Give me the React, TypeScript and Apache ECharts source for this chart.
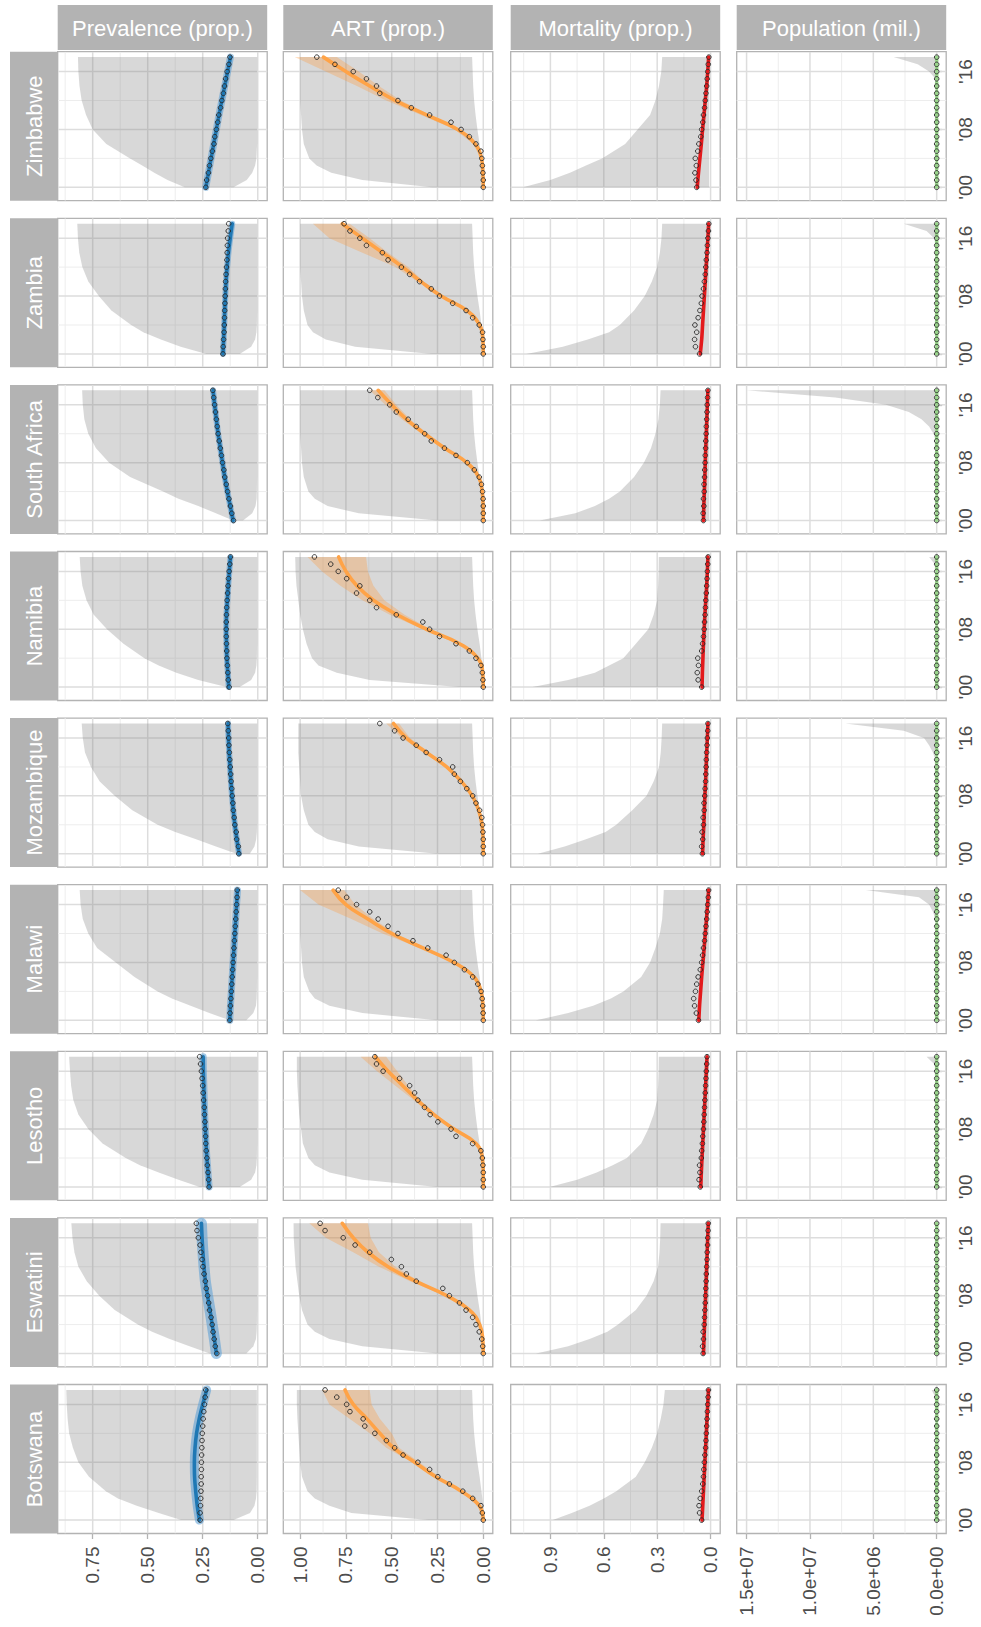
import React, { useEffect, useRef } from "react";
import * as echarts from "echarts";

// ---------------- data ----------------
const countries = ["Botswana", "Eswatini", "Lesotho", "Malawi", "Mozambique", "Namibia", "South Africa", "Zambia", "Zimbabwe"];
const measures = ["Prevalence (prop.)", "ART (prop.)", "Mortality (prop.)", "Population (mil.)"];
const years = [2000, 2001, 2002, 2003, 2004, 2005, 2006, 2007, 2008, 2009, 2010, 2011, 2012, 2013, 2014, 2015, 2016, 2017, 2018];
const fitYears = [2000, 2002, 2004, 2006, 2008, 2010, 2012, 2014, 2016, 2018];
const priorYears = [2000, 2001, 2002, 2003, 2004, 2006, 2008, 2010, 2012, 2014, 2016, 2018];

const valueTicks = [[0, 0.25, 0.5, 0.75], [0, 0.25, 0.5, 0.75, 1], [0, 0.3, 0.6, 0.9], [0, 5e6, 1e7, 1.5e7]];
const valueMinorTicks = [[0.125, 0.375, 0.625, 0.875], [0.125, 0.375, 0.625, 0.875], [0.15, 0.45, 0.75, 1.05], [2.5e6, 7.5e6, 1.25e7]];
const yearTicks = [2000, 2008, 2016];
const yearMinorTicks = [2004, 2012];

// prevalence
const prevalenceObserved = [
  [0.262, 0.262, 0.260, 0.259, 0.258, 0.257, 0.257, 0.256, 0.256, 0.255, 0.254, 0.253, 0.252, 0.250, 0.248, 0.245, 0.242, 0.239, 0.236],
  [0.186, 0.193, 0.198, 0.203, 0.207, 0.212, 0.219, 0.223, 0.228, 0.234, 0.238, 0.244, 0.249, 0.253, 0.258, 0.262, 0.270, 0.276, 0.279],
  [0.221, 0.223, 0.226, 0.229, 0.231, 0.234, 0.236, 0.237, 0.239, 0.240, 0.242, 0.243, 0.246, 0.248, 0.250, 0.253, 0.256, 0.260, 0.264],
  [0.127, 0.126, 0.124, 0.122, 0.120, 0.118, 0.116, 0.114, 0.112, 0.110, 0.108, 0.106, 0.104, 0.102, 0.100, 0.098, 0.096, 0.094, 0.093],
  [0.086, 0.088, 0.096, 0.098, 0.104, 0.107, 0.111, 0.113, 0.116, 0.118, 0.121, 0.123, 0.125, 0.127, 0.129, 0.131, 0.132, 0.134, 0.136],
  [0.130, 0.134, 0.136, 0.138, 0.140, 0.141, 0.142, 0.143, 0.143, 0.143, 0.142, 0.141, 0.139, 0.137, 0.135, 0.133, 0.130, 0.127, 0.124],
  [0.110, 0.118, 0.124, 0.131, 0.137, 0.143, 0.150, 0.154, 0.160, 0.165, 0.170, 0.175, 0.180, 0.184, 0.188, 0.192, 0.196, 0.200, 0.204],
  [0.158, 0.157, 0.155, 0.153, 0.152, 0.151, 0.150, 0.149, 0.148, 0.147, 0.146, 0.144, 0.142, 0.140, 0.139, 0.138, 0.137, 0.134, 0.132],
  [0.236, 0.232, 0.224, 0.219, 0.213, 0.206, 0.199, 0.195, 0.188, 0.182, 0.177, 0.169, 0.163, 0.156, 0.151, 0.146, 0.139, 0.131, 0.126],
];
const prevalenceFitted = [
  [0.265, 0.275, 0.282, 0.287, 0.288, 0.285, 0.278, 0.266, 0.250, 0.232],
  [0.188, 0.197, 0.207, 0.217, 0.228, 0.238, 0.244, 0.249, 0.253, 0.256],
  [0.221, 0.226, 0.231, 0.235, 0.238, 0.241, 0.243, 0.245, 0.247, 0.248],
  [0.127, 0.124, 0.120, 0.116, 0.112, 0.108, 0.104, 0.100, 0.096, 0.092],
  [0.085, 0.095, 0.104, 0.111, 0.117, 0.122, 0.126, 0.130, 0.133, 0.135],
  [0.132, 0.136, 0.140, 0.142, 0.143, 0.142, 0.138, 0.134, 0.129, 0.124],
  [0.112, 0.125, 0.138, 0.150, 0.160, 0.170, 0.180, 0.188, 0.196, 0.203],
  [0.158, 0.155, 0.152, 0.150, 0.147, 0.144, 0.139, 0.133, 0.125, 0.116],
  [0.236, 0.224, 0.212, 0.200, 0.188, 0.176, 0.163, 0.150, 0.137, 0.124],
];
const prevalencePriorLow = [
  [0.110, 0.035, 0.015, 0.008, 0.005, 0.004, 0.004, 0.004, 0.004, 0.004, 0.004, 0.004],
  [0.052, 0.020, 0.008, 0.005, 0.004, 0.003, 0.003, 0.003, 0.003, 0.003, 0.003, 0.003],
  [0.082, 0.030, 0.012, 0.006, 0.004, 0.003, 0.003, 0.003, 0.003, 0.003, 0.003, 0.003],
  [0.052, 0.020, 0.008, 0.005, 0.004, 0.003, 0.003, 0.003, 0.003, 0.003, 0.003, 0.003],
  [0.036, 0.015, 0.007, 0.004, 0.003, 0.003, 0.003, 0.003, 0.003, 0.003, 0.003, 0.003],
  [0.082, 0.030, 0.012, 0.006, 0.004, 0.003, 0.003, 0.003, 0.003, 0.003, 0.003, 0.003],
  [0.067, 0.025, 0.010, 0.005, 0.004, 0.003, 0.003, 0.003, 0.003, 0.003, 0.003, 0.003],
  [0.082, 0.030, 0.012, 0.006, 0.004, 0.003, 0.003, 0.003, 0.003, 0.003, 0.003, 0.003],
  [0.110, 0.050, 0.025, 0.012, 0.006, 0.003, 0.003, 0.003, 0.003, 0.003, 0.003, 0.003],
];
const prevalencePriorHigh = [
  [0.348, 0.450, 0.550, 0.635, 0.690, 0.767, 0.815, 0.840, 0.857, 0.864, 0.868, 0.870],
  [0.218, 0.310, 0.400, 0.480, 0.545, 0.650, 0.720, 0.777, 0.815, 0.833, 0.842, 0.847],
  [0.264, 0.360, 0.450, 0.535, 0.600, 0.705, 0.770, 0.815, 0.838, 0.848, 0.853, 0.857],
  [0.127, 0.220, 0.305, 0.390, 0.455, 0.560, 0.645, 0.730, 0.770, 0.795, 0.805, 0.809],
  [0.097, 0.190, 0.280, 0.375, 0.455, 0.570, 0.650, 0.718, 0.758, 0.785, 0.795, 0.800],
  [0.142, 0.270, 0.370, 0.450, 0.515, 0.610, 0.685, 0.745, 0.778, 0.797, 0.805, 0.809],
  [0.112, 0.190, 0.270, 0.360, 0.430, 0.580, 0.675, 0.735, 0.770, 0.788, 0.795, 0.798],
  [0.233, 0.350, 0.440, 0.520, 0.575, 0.665, 0.722, 0.770, 0.797, 0.811, 0.817, 0.820],
  [0.332, 0.410, 0.470, 0.525, 0.580, 0.688, 0.750, 0.780, 0.800, 0.810, 0.815, 0.817],
];

// ART
const artObserved = [
  [0, 0.005, 0.013, 0.058, 0.112, 0.185, 0.248, 0.293, 0.357, 0.438, 0.484, 0.529, 0.592, 0.647, 0.656, 0.728, 0.746, 0.800, 0.864],
  [0, 0.003, 0.008, 0.022, 0.040, 0.058, 0.094, 0.130, 0.185, 0.221, 0.366, 0.420, 0.447, 0.502, 0.620, 0.700, 0.765, 0.864, 0.891],
  [0, 0, 0, 0.002, 0.005, 0.013, 0.058, 0.149, 0.176, 0.248, 0.290, 0.321, 0.357, 0.375, 0.402, 0.457, 0.547, 0.583, 0.592],
  [0, 0.001, 0.003, 0.006, 0.012, 0.030, 0.058, 0.103, 0.158, 0.203, 0.303, 0.384, 0.466, 0.520, 0.574, 0.620, 0.692, 0.746, 0.792],
  [0, 0, 0, 0.002, 0.004, 0.008, 0.020, 0.040, 0.058, 0.090, 0.125, 0.158, 0.167, 0.239, 0.312, 0.366, 0.438, 0.484, 0.565],
  [0, 0.002, 0.005, 0.013, 0.040, 0.076, 0.149, 0.239, 0.293, 0.330, 0.475, 0.583, 0.620, 0.692, 0.674, 0.746, 0.792, 0.833, 0.922],
  [0, 0, 0, 0.001, 0.004, 0.010, 0.022, 0.049, 0.087, 0.149, 0.212, 0.284, 0.320, 0.366, 0.410, 0.475, 0.511, 0.576, 0.620],
  [0, 0, 0.002, 0.004, 0.022, 0.058, 0.094, 0.167, 0.239, 0.284, 0.348, 0.402, 0.447, 0.520, 0.551, 0.638, 0.674, 0.728, 0.760],
  [0, 0, 0.002, 0.005, 0.008, 0.013, 0.040, 0.076, 0.121, 0.176, 0.293, 0.393, 0.466, 0.565, 0.583, 0.638, 0.710, 0.810, 0.909],
];
const artFitted = [
  [0, 0.022, 0.120, 0.260, 0.375, 0.490, 0.565, 0.635, 0.710, 0.755],
  [0, 0.003, 0.020, 0.075, 0.200, 0.370, 0.520, 0.630, 0.710, 0.770],
  [0, 0, 0.005, 0.040, 0.160, 0.270, 0.360, 0.440, 0.520, 0.590],
  [0, 0.002, 0.012, 0.050, 0.160, 0.330, 0.500, 0.630, 0.750, 0.820],
  [0, 0.001, 0.007, 0.025, 0.060, 0.120, 0.200, 0.310, 0.420, 0.490],
  [0, 0.003, 0.030, 0.130, 0.310, 0.470, 0.600, 0.690, 0.750, 0.790],
  [0, 0.001, 0.006, 0.025, 0.090, 0.210, 0.320, 0.420, 0.500, 0.574],
  [0, 0.002, 0.020, 0.090, 0.230, 0.340, 0.440, 0.550, 0.660, 0.770],
  [0, 0.002, 0.010, 0.045, 0.140, 0.310, 0.480, 0.620, 0.750, 0.873],
];
const artBandLow = [
  [0, 0.015, 0.110, 0.240, 0.350, 0.460, 0.500, 0.565, 0.610, 0.620],
  [0, 0.002, 0.016, 0.068, 0.190, 0.350, 0.480, 0.570, 0.615, 0.630],
  [0, 0, 0.003, 0.034, 0.150, 0.255, 0.345, 0.410, 0.470, 0.530],
  [0, 0.001, 0.009, 0.044, 0.150, 0.315, 0.480, 0.600, 0.700, 0.760],
  [0, 0, 0.005, 0.020, 0.054, 0.112, 0.190, 0.295, 0.400, 0.460],
  [0, 0.002, 0.025, 0.120, 0.290, 0.430, 0.540, 0.600, 0.630, 0.640],
  [0, 0, 0.004, 0.020, 0.082, 0.200, 0.305, 0.400, 0.475, 0.540],
  [0, 0.001, 0.016, 0.082, 0.215, 0.325, 0.410, 0.520, 0.620, 0.730],
  [0, 0.001, 0.007, 0.038, 0.125, 0.290, 0.450, 0.570, 0.680, 0.800],
];
const artBandHigh = [
  [0.003, 0.030, 0.130, 0.270, 0.390, 0.530, 0.620, 0.730, 0.840, 0.880],
  [0.001, 0.004, 0.024, 0.082, 0.210, 0.400, 0.570, 0.710, 0.860, 0.950],
  [0.001, 0.001, 0.007, 0.046, 0.170, 0.285, 0.380, 0.480, 0.580, 0.670],
  [0.001, 0.003, 0.015, 0.056, 0.170, 0.345, 0.550, 0.720, 0.900, 1.000],
  [0.001, 0.002, 0.009, 0.030, 0.066, 0.128, 0.210, 0.325, 0.445, 0.530],
  [0.001, 0.005, 0.035, 0.140, 0.330, 0.510, 0.660, 0.780, 0.880, 0.960],
  [0.001, 0.002, 0.008, 0.030, 0.098, 0.220, 0.335, 0.445, 0.535, 0.620],
  [0.001, 0.004, 0.025, 0.098, 0.245, 0.360, 0.480, 0.660, 0.840, 0.930],
  [0.001, 0.004, 0.014, 0.055, 0.155, 0.340, 0.530, 0.690, 0.860, 1.030],
];
const artPriorLow = [0, 0.001, 0.002, 0.005, 0.010, 0.020, 0.032, 0.042, 0.050, 0.055, 0.058, 0.061];
const artPriorHigh = [
  [0.30, 0.72, 0.84, 0.92, 0.96, 0.99, 1.000, 1.005, 1.010, 1.015, 1.018, 1.018],
  [0.25, 0.66, 0.84, 0.92, 0.96, 0.99, 1.005, 1.015, 1.025, 1.030, 1.035, 1.036],
  [0.25, 0.66, 0.84, 0.92, 0.955, 0.985, 0.995, 1.005, 1.010, 1.015, 1.018, 1.018],
  [0.25, 0.66, 0.84, 0.92, 0.95, 0.98, 0.990, 0.995, 1.000, 1.000, 1.000, 1.000],
  [0.25, 0.68, 0.85, 0.92, 0.955, 0.98, 0.995, 1.000, 1.005, 1.010, 1.010, 1.010],
  [0.13, 0.62, 0.80, 0.90, 0.935, 0.965, 0.985, 1.000, 1.010, 1.020, 1.025, 1.027],
  [0.25, 0.68, 0.85, 0.92, 0.955, 0.98, 0.990, 0.995, 1.000, 1.000, 1.000, 1.000],
  [0.28, 0.70, 0.86, 0.93, 0.96, 0.98, 0.990, 0.995, 1.000, 1.000, 1.000, 1.000],
  [0.28, 0.66, 0.83, 0.91, 0.95, 0.98, 0.990, 0.995, 1.000, 1.000, 1.000, 1.000],
];

// mortality
const mortalityObserved = [
  [0.050, 0.062, 0.065, 0.058, 0.050, 0.044, 0.040, 0.038, 0.035, 0.032, 0.028, 0.026, 0.024, 0.022, 0.020, 0.018, 0.016, 0.014, 0.012],
  [0.042, 0.045, 0.040, 0.042, 0.036, 0.034, 0.032, 0.030, 0.028, 0.027, 0.025, 0.024, 0.022, 0.020, 0.019, 0.017, 0.016, 0.014, 0.013],
  [0.058, 0.065, 0.060, 0.062, 0.052, 0.050, 0.046, 0.044, 0.040, 0.038, 0.036, 0.034, 0.032, 0.030, 0.028, 0.026, 0.024, 0.022, 0.020],
  [0.068, 0.080, 0.090, 0.095, 0.085, 0.078, 0.070, 0.058, 0.050, 0.045, 0.040, 0.034, 0.030, 0.026, 0.022, 0.019, 0.016, 0.013, 0.011],
  [0.046, 0.050, 0.044, 0.048, 0.040, 0.042, 0.036, 0.037, 0.033, 0.031, 0.028, 0.027, 0.025, 0.024, 0.022, 0.020, 0.018, 0.016, 0.015],
  [0.050, 0.070, 0.075, 0.068, 0.072, 0.050, 0.045, 0.040, 0.036, 0.034, 0.031, 0.029, 0.027, 0.024, 0.022, 0.020, 0.018, 0.016, 0.014],
  [0.040, 0.042, 0.038, 0.040, 0.036, 0.037, 0.034, 0.033, 0.031, 0.030, 0.028, 0.027, 0.025, 0.024, 0.022, 0.020, 0.019, 0.017, 0.015],
  [0.062, 0.085, 0.090, 0.078, 0.088, 0.070, 0.060, 0.052, 0.048, 0.040, 0.035, 0.030, 0.027, 0.024, 0.020, 0.018, 0.015, 0.012, 0.010],
  [0.078, 0.082, 0.088, 0.080, 0.086, 0.072, 0.066, 0.055, 0.050, 0.044, 0.040, 0.034, 0.030, 0.026, 0.022, 0.019, 0.016, 0.013, 0.010],
];
const mortalityFitted = [
  [0.048, 0.044, 0.040, 0.036, 0.032, 0.028, 0.024, 0.020, 0.016, 0.012],
  [0.040, 0.037, 0.034, 0.031, 0.028, 0.025, 0.022, 0.019, 0.016, 0.013],
  [0.055, 0.052, 0.048, 0.044, 0.040, 0.036, 0.032, 0.028, 0.024, 0.020],
  [0.066, 0.062, 0.056, 0.050, 0.043, 0.036, 0.030, 0.023, 0.017, 0.011],
  [0.045, 0.042, 0.038, 0.035, 0.032, 0.028, 0.025, 0.022, 0.018, 0.015],
  [0.048, 0.046, 0.043, 0.040, 0.036, 0.032, 0.027, 0.022, 0.018, 0.015],
  [0.040, 0.038, 0.035, 0.032, 0.030, 0.027, 0.024, 0.021, 0.018, 0.015],
  [0.058, 0.050, 0.045, 0.040, 0.035, 0.030, 0.025, 0.020, 0.015, 0.011],
  [0.075, 0.068, 0.060, 0.052, 0.045, 0.037, 0.030, 0.022, 0.016, 0.011],
];
const mortalityPriorLow = [0.008, 0.008, 0.008, 0.008, 0.008, 0.008, 0.008, 0.008, 0.008, 0.008, 0.008, 0.008];
const mortalityPriorHigh = [
  [0.887, 0.78, 0.68, 0.60, 0.53, 0.42, 0.37, 0.33, 0.30, 0.280, 0.265, 0.257],
  [0.980, 0.80, 0.68, 0.58, 0.52, 0.42, 0.36, 0.32, 0.295, 0.287, 0.283, 0.281],
  [0.905, 0.75, 0.64, 0.55, 0.47, 0.39, 0.35, 0.32, 0.30, 0.295, 0.292, 0.291],
  [0.980, 0.80, 0.66, 0.56, 0.49, 0.39, 0.34, 0.31, 0.285, 0.272, 0.267, 0.263],
  [0.970, 0.82, 0.70, 0.59, 0.53, 0.44, 0.36, 0.32, 0.29, 0.280, 0.275, 0.272],
  [1.000, 0.80, 0.65, 0.57, 0.49, 0.42, 0.35, 0.32, 0.30, 0.295, 0.292, 0.291],
  [0.960, 0.76, 0.65, 0.57, 0.51, 0.43, 0.375, 0.335, 0.31, 0.293, 0.285, 0.281],
  [1.035, 0.83, 0.69, 0.57, 0.51, 0.43, 0.37, 0.33, 0.30, 0.285, 0.276, 0.272],
  [1.054, 0.90, 0.79, 0.70, 0.61, 0.48, 0.41, 0.34, 0.31, 0.290, 0.277, 0.272],
];

// population (millions)
const populationObserved = [
  [1.73, 1.76, 1.79, 1.82, 1.85, 1.88, 1.91, 1.94, 1.97, 2.00, 2.03, 2.06, 2.09, 2.12, 2.15, 2.18, 2.21, 2.24, 2.25],
  [1.06, 1.06, 1.07, 1.07, 1.07, 1.07, 1.08, 1.08, 1.08, 1.09, 1.09, 1.10, 1.10, 1.11, 1.11, 1.12, 1.12, 1.13, 1.14],
  [1.99, 1.99, 1.99, 1.99, 1.99, 1.99, 2.00, 2.00, 2.01, 2.01, 2.02, 2.03, 2.04, 2.05, 2.07, 2.08, 2.09, 2.10, 2.11],
  [11.2, 11.5, 11.8, 12.1, 12.5, 12.8, 13.2, 13.6, 14.0, 14.4, 14.8, 15.2, 15.6, 16.0, 16.4, 16.8, 17.2, 17.7, 18.1],
  [17.7, 18.2, 18.7, 19.2, 19.7, 20.3, 20.9, 21.5, 22.1, 22.8, 23.5, 24.2, 24.9, 25.7, 26.4, 27.2, 28.0, 28.8, 29.5],
  [1.79, 1.82, 1.84, 1.86, 1.88, 1.90, 1.92, 1.95, 1.97, 2.00, 2.03, 2.06, 2.10, 2.14, 2.18, 2.22, 2.27, 2.31, 2.35],
  [45.0, 45.6, 46.2, 46.7, 47.2, 47.6, 48.1, 48.6, 49.1, 49.7, 50.3, 51.0, 51.8, 52.6, 53.4, 54.2, 55.0, 55.9, 56.8],
  [10.4, 10.7, 11.0, 11.3, 11.6, 11.9, 12.3, 12.7, 13.1, 13.5, 13.9, 14.3, 14.7, 15.2, 15.6, 16.1, 16.6, 17.1, 17.6],
  [11.9, 11.9, 12.0, 12.0, 12.0, 12.1, 12.2, 12.3, 12.4, 12.5, 12.7, 12.9, 13.1, 13.4, 13.6, 13.8, 14.0, 14.2, 14.4],
];
const populationPriorLow = [0, 0, 0, 0, 0, 0, 0, 0, 0, 0, 0, 0, 0, 0, 0, 0, 0, 0, 0];
const populationPriorHigh = [
  [0, 0, 0, 0, 0, 0, 0, 0, 0, 0, 0, 0, 0, 0, 0, 0, 0, 1e5, 4e5],
  [0, 0, 0, 0, 0, 0, 0, 0, 0, 0, 0, 0, 0, 0, 0, 0, 0, 0, 1e5],
  [0, 0, 0, 0, 0, 0, 0, 0, 0, 0, 0, 0, 0, 0, 0, 0, 0, 2e5, 8e5],
  [0, 0, 0, 0, 0, 0, 0, 0, 0, 0, 0, 0, 0, 0, 1e5, 3e5, 6e5, 1.4e6, 5.6e6],
  [0, 0, 0, 0, 0, 0, 0, 0, 0, 0, 0, 0, 0, 1e5, 3e5, 6e5, 1.0e6, 2.6e6, 7.2e6],
  [0, 0, 0, 0, 0, 0, 0, 0, 0, 0, 0, 0, 0, 0, 0, 0, 0, 1.5e5, 6e5],
  [0, 0, 0, 0, 0, 0, 0, 0, 0, 0, 0, 5e4, 2.5e5, 6e5, 1.2e6, 2.2e6, 4.0e6, 8.0e6, 1.5e7],
  [0, 0, 0, 0, 0, 0, 0, 0, 0, 0, 0, 0, 0, 0, 2e4, 5e4, 2e5, 8e5, 2.6e6],
  [0, 0, 0, 0, 0, 0, 0, 0, 0, 0, 0, 0, 0, 0, 0, 1e5, 6e5, 1.5e6, 3.4e6],
];

// ---------------- layout & style ----------------
const FONT = "'Liberation Sans', Arial, Helvetica, sans-serif";
const COL_LEFT = [57.7, 283.3, 510.7, 736.7];
const PANEL_W = 209.5;
const ROW_TOP = 51.7;
const ROW_PITCH = 166.6;
const PANEL_H = 149;
const VALUE_RANGE = [[-0.043, 0.909], [-0.052, 1.092], [-0.054, 1.123], [-7.5e5, 1.578e7]];
const YEAR_RANGE = [1998.15, 2018.75];
const STRIP = "#B3B3B3";
const PRIOR_FILL = "rgba(127,127,127,0.30)";
const PREV_BAND_WIDTH = [9, 11, 7, 7, 6, 6, 6, 6, 7];

function fmtValue(c: number, v: number): string {
  if (c === 0 || c === 1) return v.toFixed(2);
  if (c === 2) return v.toFixed(1);
  const s = v.toExponential(1);
  const [m, e] = s.split("e");
  const sign = e[0] === "-" ? "-" : "+";
  const digits = e.replace(/[+-]/, "").padStart(2, "0");
  return m + "e" + sign + digits;
}

function pairs(vals: number[], ys: number[]) {
  return ys.map((y, k) => [vals[k], y]);
}

function ribbonPoints(lo: number[], hi: number[], ys: number[]) {
  const up = ys.map((y, k) => [hi[k], y]);
  const dn = ys.map((y, k) => [lo[k], y]).reverse();
  return up.concat(dn);
}

function polygonSeries(g: number, pts: number[][], fill: string, z: number) {
  return {
    type: "custom",
    xAxisIndex: g,
    yAxisIndex: g,
    z,
    silent: true,
    clip: true,
    encode: { x: 0, y: 1 },
    data: [[pts[0][0], pts[0][1]]],
    renderItem: (_p: any, api: any) => ({
      type: "polygon",
      shape: { points: pts.map((p) => api.coord(p)) },
      style: { fill },
    }),
  };
}

function gridLineSeries(g: number, c: number) {
  return {
    type: "custom",
    xAxisIndex: g,
    yAxisIndex: g,
    z: 1,
    silent: true,
    clip: true,
    encode: { x: 0, y: 1 },
    data: [[0, 2008]],
    renderItem: (_p: any, api: any) => {
      const children: any[] = [];
      const [x0, x1] = VALUE_RANGE[c];
      const [y0, y1] = YEAR_RANGE;
      const seg = (a: number[], b: number[], major: boolean) => ({
        type: "line",
        shape: { x1: a[0], y1: a[1], x2: b[0], y2: b[1] },
        style: { stroke: major ? "#DDDDDD" : "#EDEDED", lineWidth: major ? 1.5 : 1.0 },
      });
      valueMinorTicks[c].forEach((v) => children.push(seg(api.coord([v, y0]), api.coord([v, y1]), false)));
      yearMinorTicks.forEach((y) => children.push(seg(api.coord([x0, y]), api.coord([x1, y]), false)));
      valueTicks[c].forEach((v) => children.push(seg(api.coord([v, y0]), api.coord([v, y1]), true)));
      yearTicks.forEach((y) => children.push(seg(api.coord([x0, y]), api.coord([x1, y]), true)));
      return { type: "group", children };
    },
  };
}

function lineSeries(g: number, data: number[][], color: string, width: number, z: number, dashed = false, smooth: number = 0.3) {
  return {
    type: "line",
    xAxisIndex: g,
    yAxisIndex: g,
    data,
    z,
    silent: true,
    showSymbol: false,
    symbol: "none",
    smooth,
    clip: true,
    lineStyle: { color, width, type: dashed ? [6, 3] : "solid", cap: "round" },
  };
}

function pointSeries(g: number, data: number[][]) {
  return {
    type: "scatter",
    xAxisIndex: g,
    yAxisIndex: g,
    data,
    z: 6,
    silent: true,
    symbol: "circle",
    symbolSize: 4.6,
    itemStyle: { color: "rgba(0,0,0,0)", borderColor: "#262626", borderWidth: 0.9, opacity: 1 },
  };
}

function buildOption() {
  const grid: any[] = [];
  const xAxis: any[] = [];
  const yAxis: any[] = [];
  const series: any[] = [];
  const elements: any[] = [];

  countries.forEach((name, i) => {
    const row = 8 - i;
    const top = ROW_TOP + row * ROW_PITCH;
    for (let c = 0; c < 4; c++) {
      const g = grid.length;
      const isBottom = row === 8;
      const isRight = c === 3;
      grid.push({
        left: COL_LEFT[c], top, width: PANEL_W, height: PANEL_H,
        show: true, backgroundColor: "#FFFFFF", borderColor: STRIP, borderWidth: 1.3,
      });
      xAxis.push({
        type: "value", gridIndex: g, min: VALUE_RANGE[c][0], max: VALUE_RANGE[c][1], inverse: true,
        axisLine: { show: false }, splitLine: { show: false }, minorSplitLine: { show: false },
        axisTick: { show: isBottom, customValues: valueTicks[c], length: 5.5, lineStyle: { color: STRIP, width: 1.3 } },
        axisLabel: {
          show: isBottom, customValues: valueTicks[c], rotate: 90, margin: 13,
          fontSize: 19, color: "#4D4D4D", fontFamily: FONT,
          formatter: (v: number) => fmtValue(c, v),
        },
      });
      yAxis.push({
        type: "value", gridIndex: g, min: YEAR_RANGE[0], max: YEAR_RANGE[1], position: "right",
        axisLine: { show: false }, splitLine: { show: false }, minorSplitLine: { show: false },
        axisTick: { show: isRight, customValues: yearTicks, length: 5.5, lineStyle: { color: STRIP, width: 1.3 } },
        axisLabel: {
          show: isRight, customValues: yearTicks, rotate: 90, margin: 10,
          fontSize: 19, color: "#4D4D4D", fontFamily: FONT,
          formatter: (v: number) => "'" + String(Math.round(v)).slice(2),
        },
      });

      series.push(gridLineSeries(g, c));
      if (c === 0) {
        series.push(polygonSeries(g, ribbonPoints(prevalencePriorLow[i], prevalencePriorHigh[i], priorYears), PRIOR_FILL, 2));
        series.push(lineSeries(g, pairs(prevalenceFitted[i], fitYears), "rgba(86,156,214,0.55)", PREV_BAND_WIDTH[i], 3));
        series.push(lineSeries(g, pairs(prevalenceFitted[i], fitYears), "#1F78B4", 3.6, 4));
        series.push(pointSeries(g, pairs(prevalenceObserved[i], years)));
      } else if (c === 1) {
        series.push(polygonSeries(g, ribbonPoints(artPriorLow, artPriorHigh[i], priorYears), PRIOR_FILL, 2));
        series.push(polygonSeries(g, ribbonPoints(artBandLow[i], artBandHigh[i], fitYears), "rgba(255,150,50,0.30)", 3));
        series.push(lineSeries(g, pairs(artFitted[i], fitYears), "#FFA347", 3.6, 4, false, 0.45));
        series.push(pointSeries(g, pairs(artObserved[i], years)));
      } else if (c === 2) {
        series.push(polygonSeries(g, ribbonPoints(mortalityPriorLow, mortalityPriorHigh[i], priorYears), PRIOR_FILL, 2));
        series.push(lineSeries(g, pairs(mortalityFitted[i], fitYears), "#E31A1C", 3.6, 4));
        series.push(pointSeries(g, pairs(mortalityObserved[i], years)));
      } else {
        series.push(polygonSeries(g, ribbonPoints(populationPriorLow, populationPriorHigh[i], years), PRIOR_FILL, 2));
        series.push(lineSeries(g, pairs(populationObserved[i], years), "#9AD68C", 3.6, 4, true, 0));
        series.push(pointSeries(g, pairs(populationObserved[i], years)));
      }
    }
    // country strip (left)
    elements.push({ type: "rect", shape: { x: 10, y: top, width: 48, height: PANEL_H }, style: { fill: STRIP }, z: 10 });
    elements.push({
      type: "text", x: 34, y: top + PANEL_H / 2, rotation: Math.PI / 2, z: 11,
      style: { text: name, fill: "#FFFFFF", fontSize: 22, fontFamily: FONT, align: "center", verticalAlign: "middle" },
    });
  });

  measures.forEach((m, c) => {
    elements.push({ type: "rect", shape: { x: COL_LEFT[c], y: 5, width: PANEL_W, height: 45 }, style: { fill: STRIP }, z: 10 });
    elements.push({
      type: "text", x: COL_LEFT[c] + PANEL_W / 2, y: 28, z: 11,
      style: { text: m, fill: "#FFFFFF", fontSize: 22, fontFamily: FONT, align: "center", verticalAlign: "middle" },
    });
  });

  return {
    animation: false,
    backgroundColor: "#FFFFFF",
    textStyle: { fontFamily: FONT },
    grid,
    xAxis,
    yAxis,
    series,
    graphic: { elements },
  };
}

export default function App() {
  const ref = useRef<HTMLDivElement | null>(null);
  useEffect(() => {
    if (!ref.current) return;
    const chart = echarts.init(ref.current, undefined, { renderer: "svg" });
    chart.setOption(buildOption() as any);
    return () => chart.dispose();
  }, []);
  return <div ref={ref} style={{ position: "absolute", left: 0, top: 0, width: 981, height: 1627 }} />;
}
